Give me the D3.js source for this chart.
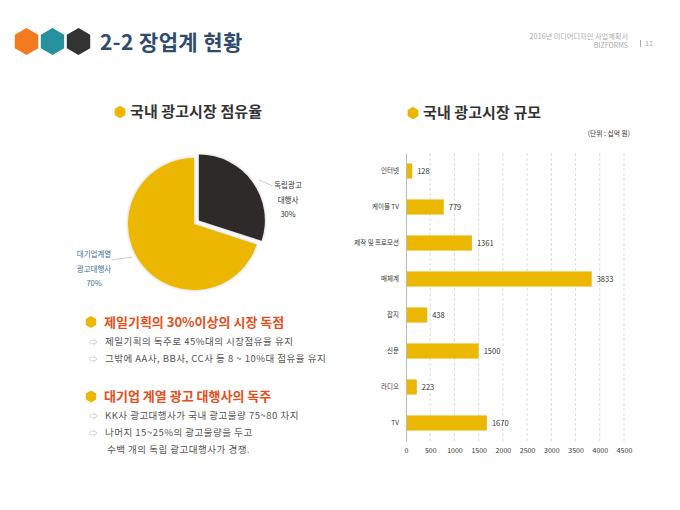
<!DOCTYPE html>
<html>
<head>
<meta charset="utf-8">
<script src="https://cdn.jsdelivr.net/npm/d3@7"></script>
<style>
  body { margin: 0; background: #fff; }
  svg { display: block; font-family: "Noto Sans CJK KR", "Noto Sans", sans-serif; }
</style>
</head>
<body>
<script>
// chart values
var categories = ['인터넷', '케이블 TV', '제작 및 프로모션', '매체계', '잡지', '신문', '라디오', 'TV'];
var marketValues = [128, 779, 1361, 3833, 438, 1500, 223, 1670];
var xTicks = [0, 500, 1000, 1500, 2000, 2500, 3000, 3500, 4000, 4500];

var shareNames = ['독립광고 대행사', '대기업계열 광고대행사'];
var shareValues = [30, 70];
var shareLabelLines = [['독립광고', '대행사', '30%'], ['대기업계열', '광고대행사', '70%']];

var bulletsOne = ['제일기획의 독주로  45%대의 시장점유율 유지', '그밖에 AA사, BB사, CC사 등 8 ~ 10%대 점유율 유지'];
var bulletsTwo = ['KK사 광고대행사가 국내 광고물량 75~80 차지', '나머지 15~25%의 광고물량을 두고'];
var bulletsTwoCont = '수백 개의 독립 광고대행사가 경쟁.';

var w = 680, h = 510;
var yellow = '#EBB700';

var svg = d3.select('body').append('svg')
    .attr('width', w)
    .attr('height', h);

// hexagon path helper (pointy top)
var hexPath = function(cx, cy, r) {
  var pts = [];
  for (var i = 0; i < 6; i++) {
    var a = Math.PI / 3 * i - Math.PI / 2;
    pts.push([cx + r * Math.cos(a), cy + r * Math.sin(a)]);
  }
  return 'M' + pts.map(function(p) { return p.join(','); }).join('L') + 'Z';
};

// ---- header
var hexColors = ['#F47A20', '#26909F', '#333333'];
hexColors.forEach(function(c, i) {
  svg.append('path').attr('d', hexPath(26.5 + i * 26, 41.5, 13.5)).attr('fill', c);
});
svg.append('text')
    .attr('x', 100).attr('y', 50)
    .attr('font-size', 21).attr('font-weight', 'bold')
    .attr('letter-spacing', 0.4)
    .attr('fill', '#2F4B6E')
    .text('2-2 장업계 현황');

svg.append('text')
    .attr('x', 628).attr('y', 39)
    .attr('text-anchor', 'end').attr('font-size', 7.2).attr('fill', '#aaa')
    .text('2016년 미디어디자인 사업계획서');
svg.append('text')
    .attr('x', 628).attr('y', 47.5)
    .attr('text-anchor', 'end').attr('font-size', 7).attr('fill', '#aaa')
    .text('BIZFORMS');
svg.append('line')
    .attr('x1', 640.5).attr('x2', 640.5).attr('y1', 40).attr('y2', 47)
    .style('stroke', '#aaa').style('stroke-width', 1);
svg.append('text')
    .attr('x', 645).attr('y', 46)
    .attr('font-size', 7).attr('fill', '#aaa')
    .text('11');

// ---- section titles
var sectionTitle = function(x, y, txt) {
  svg.append('path').attr('d', hexPath(x, y - 5, 6.2)).attr('fill', yellow);
  svg.append('text')
      .attr('x', x + 10).attr('y', y)
      .attr('font-size', 15).attr('font-weight', 'bold').attr('fill', '#333')
      .attr('letter-spacing', 0.1)
      .text(txt);
};
sectionTitle(120, 117, '국내 광고시장 점유율');
sectionTitle(413, 118, '국내 광고시장 규모');

// ---- pie
var pieCx = 194, pieCy = 224, pieR = 66;
var pie = d3.pie().sort(null).value(function(d) { return d; });
var arc = d3.arc().innerRadius(0).outerRadius(pieR);
var pieColors = ['#2F2C2C', yellow];

var defs = svg.append('defs');
var filt = defs.append('filter').attr('id', 'shadow').attr('x', '-20%').attr('y', '-20%').attr('width', '140%').attr('height', '140%');
filt.append('feDropShadow').attr('dx', 0).attr('dy', 0).attr('stdDeviation', 1.5).attr('flood-color', '#000').attr('flood-opacity', 0.25);

var pieG = svg.append('g').attr('transform', 'translate(' + pieCx + ',' + pieCy + ')');
pieG.selectAll('path.slice')
    .data(pie(shareValues))
    .enter().append('path')
    .attr('class', 'slice')
    .attr('d', arc)
    .attr('fill', function(d, i) { return pieColors[i]; })
    .attr('filter', 'url(#shadow)')
    .attr('transform', function(d, i) {
      if (i !== 0) return null;
      var mid = (d.startAngle + d.endAngle) / 2;
      return 'translate(' + (6 * Math.sin(mid)) + ',' + (-6 * Math.cos(mid)) + ')';
    })
    .append('title').text(function(d, i) { return shareNames[i]; });

// pie labels
var labelPos = [[288, 188, '#333'], [94, 257, '#3E6E9A']];
shareLabelLines.forEach(function(lines, i) {
  var t = svg.append('text')
      .attr('text-anchor', 'middle')
      .attr('font-size', 7.5)
      .attr('fill', labelPos[i][2]);
  lines.forEach(function(l, j) {
    t.append('tspan')
        .attr('x', labelPos[i][0])
        .attr('y', labelPos[i][1] + j * 14.5)
        .text(l);
  });
});
svg.append('line').attr('x1', 259).attr('y1', 180).attr('x2', 273).attr('y2', 186)
    .style('stroke', '#aaa').style('stroke-width', 0.6);
svg.append('line').attr('x1', 112).attr('y1', 260).attr('x2', 132).attr('y2', 257)
    .style('stroke', '#aaa').style('stroke-width', 0.6);

// ---- bullet sections
var heading = function(y, txt) {
  svg.append('path').attr('d', hexPath(91, y - 4.5, 6)).attr('fill', yellow);
  svg.append('text')
      .attr('x', 104).attr('y', y)
      .attr('font-size', 13).attr('font-weight', 'bold').attr('fill', '#E84E1B')
      .text(txt);
};
var bullet = function(y, txt, arrow) {
  if (arrow) {
    svg.append('text').attr('x', 89).attr('y', y)
        .attr('font-size', 8.5).attr('fill', '#999').text('⇨');
  }
  svg.append('text').attr('x', arrow ? 105 : 107).attr('y', y)
      .attr('font-size', 9.5).attr('letter-spacing', 0.5).attr('fill', '#555').text(txt);
};
heading(326.5, '제일기획의 30%이상의 시장 독점');
bulletsOne.forEach(function(b, i) { bullet(344.5 + i * 17.5, b, true); });
heading(401, '대기업 계열 광고 대행사의 독주');
bulletsTwo.forEach(function(b, i) { bullet(418.5 + i * 17, b, true); });
bullet(452.5, bulletsTwoCont, false);

// ---- bar chart
svg.append('text')
    .attr('x', 630).attr('y', 136)
    .attr('text-anchor', 'end').attr('font-size', 6.8).attr('fill', '#333')
    .text('(단위 : 십억 원)');

var x = d3.scaleLinear().domain([0, 4500]).range([406, 624]);
var y = d3.scaleBand().domain(categories).range([153, 441]).paddingInner(0.58).paddingOuter(0.29);

// grid
svg.selectAll('line.grid')
    .data(xTicks.slice(1))
    .enter().append('line')
    .attr('class', 'grid')
    .attr('x1', function(d) { return x(d); })
    .attr('x2', function(d) { return x(d); })
    .attr('y1', 153).attr('y2', 441)
    .style('stroke', '#d0d0d0').style('stroke-width', 0.7)
    .style('stroke-dasharray', '3,2');

svg.selectAll('rect.bar')
    .data(marketValues)
    .enter().append('rect')
    .attr('class', 'bar')
    .attr('x', x(0))
    .attr('y', function(d, i) { return y(categories[i]); })
    .attr('width', function(d) { return x(d) - x(0); })
    .attr('height', y.bandwidth())
    .attr('fill', yellow);

svg.selectAll('text.val')
    .data(marketValues)
    .enter().append('text')
    .attr('class', 'val')
    .attr('x', function(d) { return x(d) + 5; })
    .attr('y', function(d, i) { return y(categories[i]) + y.bandwidth() / 2 + 2.8; })
    .attr('font-size', 7.5).attr('fill', '#333')
    .text(function(d) { return d; });

var yAxis = svg.append('g')
    .attr('transform', 'translate(' + x(0) + ',0)')
    .call(d3.axisLeft(y).tickSize(0).tickPadding(7));
yAxis.select('.domain').style('stroke', '#bbb');
yAxis.attr('font-family', null);
yAxis.selectAll('text').attr('font-size', 6.5).attr('fill', '#333');

var xAxis = svg.append('g')
    .attr('transform', 'translate(0,441)')
    .call(d3.axisBottom(x).tickValues(xTicks).tickFormat(d3.format('d')).tickSize(0).tickPadding(7));
xAxis.select('.domain').remove();
xAxis.attr('font-family', null);
xAxis.selectAll('text').attr('font-size', 7).attr('fill', '#333');
</script>
</body>
</html>
